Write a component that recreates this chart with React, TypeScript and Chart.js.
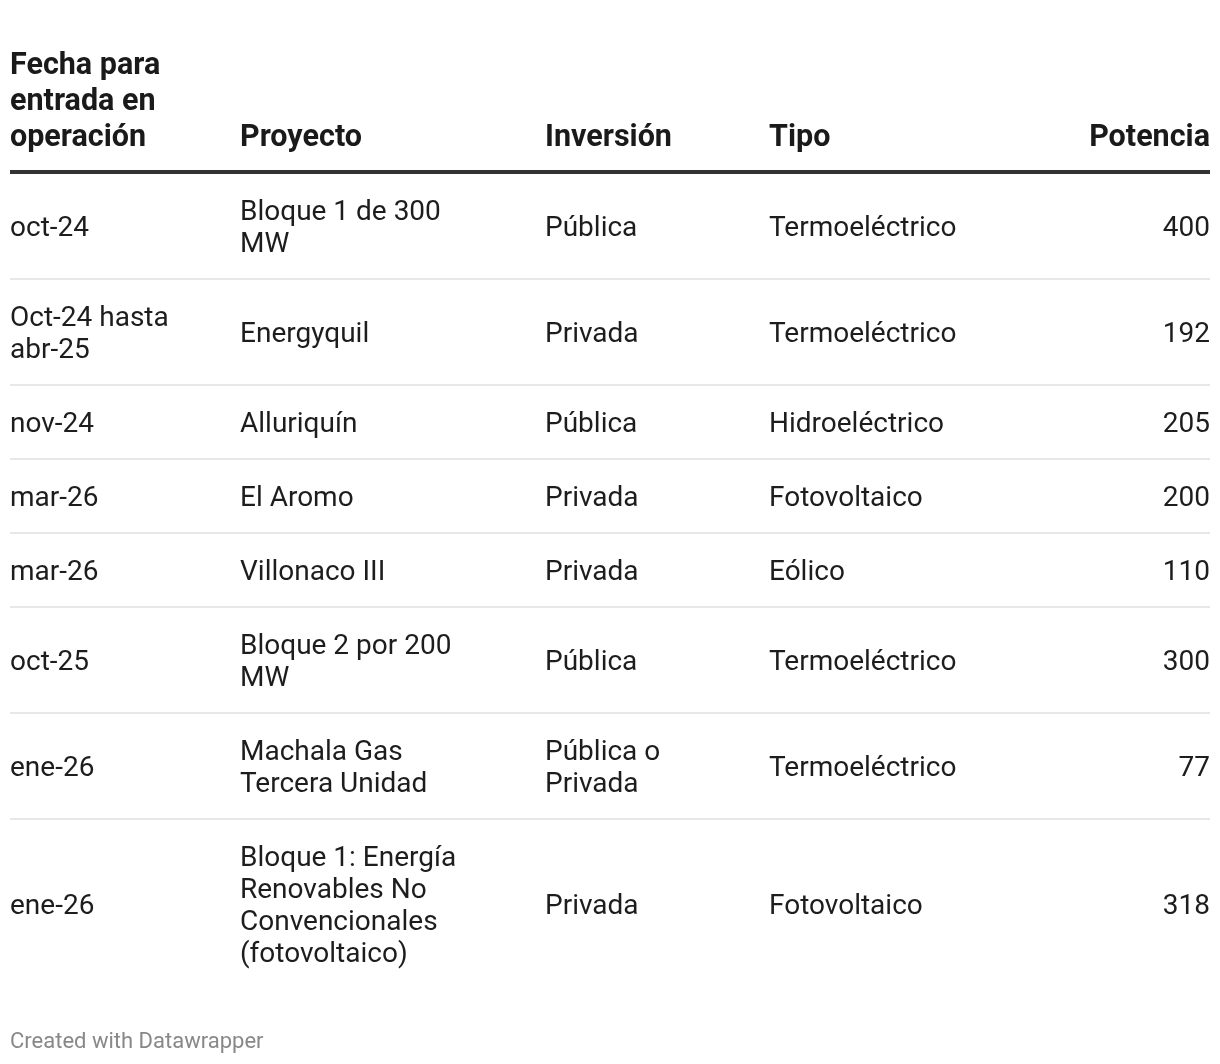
import React, { useEffect, useRef } from "react";
import { Chart, registerables } from "chart.js";

Chart.register(...registerables);

// ---- Data ----
const headers = ["Fecha para entrada en operación", "Proyecto", "Inversión", "Tipo", "Potencia"];
const fechas = ["oct-24", "Oct-24 hasta abr-25", "nov-24", "mar-26", "mar-26", "oct-25", "ene-26", "ene-26"];
const proyectos = [
  "Bloque 1 de 300 MW",
  "Energyquil",
  "Alluriquín",
  "El Aromo",
  "Villonaco III",
  "Bloque 2 por 200 MW",
  "Machala Gas Tercera Unidad",
  "Bloque 1: Energía Renovables No Convencionales (fotovoltaico)",
];
const inversiones = ["Pública", "Privada", "Pública", "Privada", "Privada", "Pública", "Pública o Privada", "Privada"];
const tipos = [
  "Termoeléctrico",
  "Termoeléctrico",
  "Hidroeléctrico",
  "Fotovoltaico",
  "Eólico",
  "Termoeléctrico",
  "Termoeléctrico",
  "Fotovoltaico",
];
const potencias = [400, 192, 205, 200, 110, 300, 77, 318];
const footerText = "Created with Datawrapper";

// ---- Layout (canvas units) ----
const W = 1204;
const H = 1048;
const colX = [2, 232, 537, 761, 1202];
const colAlign: CanvasTextAlign[] = ["left", "left", "left", "left", "right"];
const colMax = [200, 230, 190, 250, 200];
const FONT = "Roboto, 'Noto Sans', sans-serif";
const headerFont = `bold 30.5px ${FONT}`;
const bodyFont = `28px ${FONT}`;
const footerFont = `22px ${FONT}`;

function wrap(ctx: CanvasRenderingContext2D, text: string, maxW: number): string[] {
  const words = text.split(" ");
  const lines: string[] = [];
  let cur = "";
  for (const w of words) {
    const t = cur ? cur + " " + w : w;
    if (cur && ctx.measureText(t).width > maxW) {
      lines.push(cur);
      cur = w;
    } else cur = t;
  }
  if (cur) lines.push(cur);
  return lines;
}

const tablePlugin = {
  id: "tablePlugin",
  afterDraw(chart: any) {
    const ctx: CanvasRenderingContext2D = chart.ctx;
    const xs = chart.scales.x;
    const ys = chart.scales.y;
    const px = (v: number) => xs.getPixelForValue(v);
    const py = (v: number) => ys.getPixelForValue(v);
    ctx.save();
    ctx.textBaseline = "middle";

    // header
    ctx.font = headerFont;
    ctx.fillStyle = "#1a1a1a";
    const headerBottom = 130;
    headers.forEach((h, i) => {
      const lines = wrap(ctx, h, colMax[i]);
      ctx.textAlign = colAlign[i];
      lines.forEach((l, k) => {
        ctx.fillText(l, px(colX[i]), py(headerBottom - (lines.length - 1 - k) * 36));
      });
    });
    ctx.fillStyle = "#333333";
    ctx.fillRect(px(colX[0]), py(162), px(colX[4]) - px(colX[0]), py(166) - py(162));

    // body
    ctx.font = bodyFont;
    let start = 166;
    const n = fechas.length;
    for (let r = 0; r < n; r++) {
      const cells = [fechas[r], proyectos[r], inversiones[r], tipos[r], String(potencias[r])];
      const wrapped = cells.map((c, i) => wrap(ctx, c, colMax[i]));
      const nl = Math.max(...wrapped.map((w) => w.length));
      const h = 72 + (nl - 1) * 32;
      const center = start + h / 2 + 3;
      ctx.fillStyle = "#1d1d1d";
      wrapped.forEach((lines, i) => {
        ctx.textAlign = colAlign[i];
        lines.forEach((l, k) => {
          ctx.fillText(l, px(colX[i]), py(center - (lines.length - 1) * 16 + k * 32));
        });
      });
      if (r < n - 1) {
        ctx.fillStyle = "#e8e8e8";
        ctx.fillRect(px(colX[0]), py(start + h), px(colX[4]) - px(colX[0]), py(start + h + 2) - py(start + h));
      }
      start += h + 2;
    }

    // footer
    ctx.font = footerFont;
    ctx.fillStyle = "#888888";
    ctx.textAlign = "left";
    ctx.fillText(footerText, px(colX[0]), py(1034));
    ctx.restore();
  },
};

export default function App() {
  const ref = useRef<HTMLCanvasElement | null>(null);
  useEffect(() => {
    if (!ref.current) return;
    const chart = new Chart(ref.current, {
      type: "scatter",
      data: { datasets: [] },
      options: {
        animation: false,
        responsive: true,
        maintainAspectRatio: false,
        layout: { padding: 0 },
        plugins: { legend: { display: false }, tooltip: { enabled: false } },
        scales: {
          x: { type: "linear", min: 0, max: W, display: false },
          y: { type: "linear", min: 0, max: H, reverse: true, display: false },
        },
      },
      plugins: [tablePlugin],
    } as any);
    return () => chart.destroy();
  }, []);
  return (
    <div style={{ width: W, height: H, position: "relative", background: "#fff" }}>
      <canvas ref={ref} />
    </div>
  );
}
